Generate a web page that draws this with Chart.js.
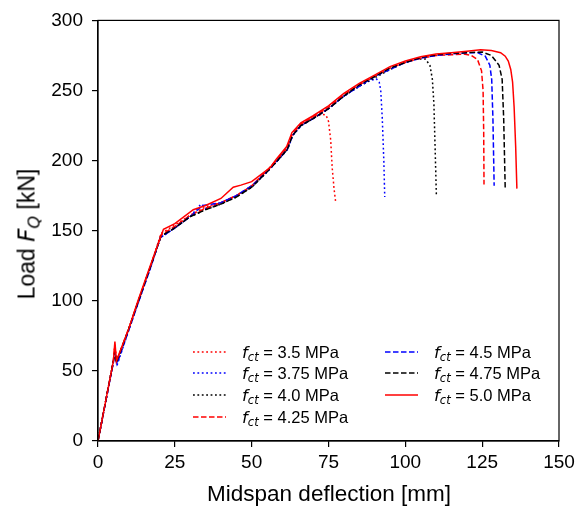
<!DOCTYPE html>
<html>
<head>
<meta charset="utf-8">
<script src="https://cdn.jsdelivr.net/npm/chart.js@4.4.1/dist/chart.umd.min.js"></script>
<style>
  body { margin: 0; background: #fff; }
  #wrap { position: relative; width: 584px; height: 508px; font-family: "Liberation Sans", Arial, sans-serif; color: #000; }
  #c { position: absolute; left: 0; top: 0; }
  .ylab { position: absolute; left: 27px; top: 234px; transform: translate(-50%, -50%) rotate(-90deg); font-size: 23px; white-space: nowrap; }
  .xlab { position: absolute; left: 329px; top: 494px; transform: translate(-50%, -50%); font-size: 22.5px; white-space: nowrap; }
  .m { font-family: "DejaVu Sans", sans-serif; font-style: italic; }
  .m sub { font-size: 70%; vertical-align: -0.3em; line-height: 0; }
  .leg { position: absolute; font-size: 16.5px; white-space: nowrap; display: flex; align-items: center; height: 20px; }
  .leg svg { margin-right: 16px; }
</style>
</head>
<body>
<div id="wrap">
  <canvas id="c" width="584" height="508"></canvas>
  <div class="ylab">Load <span class="m">F<sub>Q</sub></span> [kN]</div>
  <div class="xlab">Midspan deflection [mm]</div>
  <div id="legend"></div>
</div>
<script>
// deflection [mm] / load [kN]
const defl35  = [0, 5, 5.5, 6, 10, 13, 17, 20.5, 25, 30, 35, 40, 45, 50, 55, 58, 61.5, 63.2, 66, 70, 73, 74.2, 75, 75.7, 76.2, 76.8, 77.3];
const load35  = [0, 57, 69, 57, 80, 99, 124, 148, 154, 161, 167, 170, 175, 182, 193, 200, 209, 219, 226, 231, 233, 232.5, 228, 215, 195, 180, 171];

const defl375 = [0, 5, 5.5, 6.2, 10, 13, 17, 20.3, 25, 30, 33.5, 35, 40, 45, 50, 55, 58, 61.7, 63.4, 66.2, 70, 75, 80, 85, 88, 90.5, 91.5, 92, 92.5, 93, 93.3];
const load375 = [0, 56, 64, 54, 79, 98, 123, 145, 152, 160, 169, 166, 170, 175, 181, 192, 199, 208, 218, 225, 230, 237, 246, 253, 256.5, 258.5, 256, 250, 230, 200, 174];

const defl40  = [0, 5, 5.5, 6, 10, 13, 17, 20.5, 25, 30, 35, 40, 45, 50, 55, 58, 61.6, 63.3, 66, 70, 75, 80, 85, 90, 95, 100, 104, 106.5, 108, 108.8, 109.3, 109.8, 110.1];
const load40  = [0, 57, 63, 56, 80, 99, 124, 146, 152, 160, 165, 169, 174, 181, 192, 199, 208, 218, 225, 230, 237, 246, 253, 259, 265, 270, 272.5, 272.5, 268, 258, 240, 200, 175];

const defl425 = [0, 5, 5.5, 6, 10, 13, 17, 20.5, 25, 30, 35, 40, 45, 50, 55, 58, 61.5, 63.2, 66, 70, 75, 80, 85, 90, 95, 100, 105, 110, 115, 119, 121.5, 123.5, 124.8, 125.3, 125.5, 125.6];
const load425 = [0, 57, 67, 57, 80, 99, 124, 147, 153, 161, 166, 170, 175, 182, 193, 200, 209, 219, 226, 231, 238, 247, 254, 260, 266, 270, 273, 275, 275.5, 276, 275, 272, 264, 250, 220, 183];

const defl45  = [0, 5, 5.5, 6.2, 10, 13, 17, 20.3, 25, 30, 34, 40, 45, 50, 55, 58, 61.6, 63.3, 66, 70, 75, 80, 85, 90, 95, 100, 105, 110, 115, 120, 123.5, 126, 127.5, 128.1, 128.5, 128.9];
const load45  = [0, 56, 63, 55, 79, 98, 123, 145, 152, 160, 168, 170, 175, 182, 192, 199, 208, 218, 225, 230, 237, 246, 253, 260, 265, 270, 273, 275, 276, 277, 277, 274.5, 268, 258, 230, 182];

const defl475 = [0, 5, 5.5, 6, 10, 13, 17, 20.5, 25, 30, 35, 40, 45, 50, 55, 58, 61.6, 63.3, 66, 70, 75, 80, 85, 90, 95, 100, 105, 110, 115, 120, 125, 128, 130.5, 131.5, 132, 132.5];
const load475 = [0, 57, 64, 56, 80, 99, 124, 146, 152, 160, 165, 169, 174, 181, 192, 199, 208, 218, 225, 230, 237, 246, 254, 260, 266, 270, 273.5, 275.5, 276.5, 277, 277.5, 275, 268, 258, 230, 180];

const defl50  = [0, 5, 5.5, 6, 10, 13, 17, 21.3, 25, 31, 35, 40, 44, 46.5, 50, 53, 56, 58, 61.4, 63.1, 66, 70, 75, 80, 85, 90, 95, 100, 105, 110, 115, 120, 124.5, 128, 131, 132.5, 133.5, 134.3, 134.9, 135.4, 135.9, 136.3];
const load50  = [0, 57, 71, 57, 80, 100, 125, 151, 155, 165, 168, 173, 181, 182.5, 185, 190, 195, 201, 210, 220, 227, 232, 239, 248, 255, 261, 267, 271, 274, 276, 277, 278, 279, 278.5, 277, 274.5, 271, 265, 256, 238, 210, 180];

const labels  = ['3.5', '3.75', '4.0', '4.25', '4.5', '4.75', '5.0'];
const xTicks  = [0, 25, 50, 75, 100, 125, 150];
const yTicks  = [0, 50, 100, 150, 200, 250, 300];

const DOT = [1.8, 2.6], DASH = [5.5, 2.5], SOLID = [];
const styles = [
  { color: '#ff0000', dash: DOT },
  { color: '#0000ff', dash: DOT },
  { color: '#000000', dash: DOT },
  { color: '#ff0000', dash: DASH },
  { color: '#0000ff', dash: DASH },
  { color: '#000000', dash: DASH },
  { color: '#ff0000', dash: SOLID },
];
const series = [[defl35, load35], [defl375, load375], [defl40, load40], [defl425, load425],
                [defl45, load45], [defl475, load475], [defl50, load50]];

function pts(xs, ys) { return xs.map((x, i) => ({ x, y: ys[i] })); }

const datasets = series.map((s, i) => ({
  label: 'fct = ' + labels[i] + ' MPa',
  data: pts(s[0], s[1]),
  borderColor: styles[i].color, borderDash: styles[i].dash,
  borderWidth: 1.5, pointRadius: 0, showLine: true, fill: false,
  tension: 0,
}));

const frame = {
  id: 'frame',
  afterDraw(chart) {
    const { ctx, chartArea: a } = chart;
    ctx.save();
    ctx.strokeStyle = '#000'; ctx.lineWidth = 1.2;
    ctx.strokeRect(a.left, a.top, a.right - a.left, a.bottom - a.top);
    ctx.restore();
  },
};

const tickFont = { family: '"Liberation Sans", Arial, sans-serif', size: 19 };
new Chart(document.getElementById('c').getContext('2d'), {
  type: 'scatter',
  data: { datasets: datasets.reverse() },
  options: {
    responsive: false, animation: false, devicePixelRatio: 1,
    layout: { padding: { left: 0, top: 19, right: 25, bottom: 0 } },
    plugins: { legend: { display: false }, tooltip: { enabled: false } },
    scales: {
      x: {
        type: 'linear', min: 0, max: 150,
        afterBuildTicks: s => { s.ticks = xTicks.map(v => ({ value: v })); },
        afterFit: s => { s.height = 67; },
        grid: { drawOnChartArea: false, drawTicks: true, tickLength: 6, color: '#000', lineWidth: 1.2 },
        border: { display: true, color: '#000', width: 1.2 },
        ticks: { color: '#000', font: tickFont, padding: 4, maxRotation: 0 },
      },
      y: {
        type: 'linear', min: 0, max: 300,
        afterBuildTicks: s => { s.ticks = yTicks.map(v => ({ value: v })); },
        afterFit: s => { s.width = 98; },
        grid: { drawOnChartArea: false, drawTicks: true, tickLength: 6, color: '#000', lineWidth: 1.2 },
        border: { display: true, color: '#000', width: 1.2 },
        ticks: { color: '#000', font: tickFont, padding: 9 },
      },
    },
  },
  plugins: [frame],
});

// legend inside the axes, two columns
const legPos = [[193, 352], [193, 373], [193, 395], [193, 417], [385, 352], [385, 373], [385, 395]];
const legend = document.getElementById('legend');
labels.forEach((lab, i) => {
  const d = document.createElement('div');
  d.className = 'leg';
  d.style.left = legPos[i][0] + 'px';
  d.style.top = (legPos[i][1] - 10) + 'px';
  const dash = styles[i].dash.length ? styles[i].dash.join(' ') : 'none';
  d.innerHTML = `<svg width="33" height="6"><line x1="0" y1="3" x2="33" y2="3" stroke="${styles[i].color}" stroke-width="1.5" stroke-dasharray="${dash}"/></svg>` +
    `<span class="m">f<sub>ct</sub></span>&nbsp;= ${lab} MPa`;
  legend.appendChild(d);
});
</script>
</body>
</html>
